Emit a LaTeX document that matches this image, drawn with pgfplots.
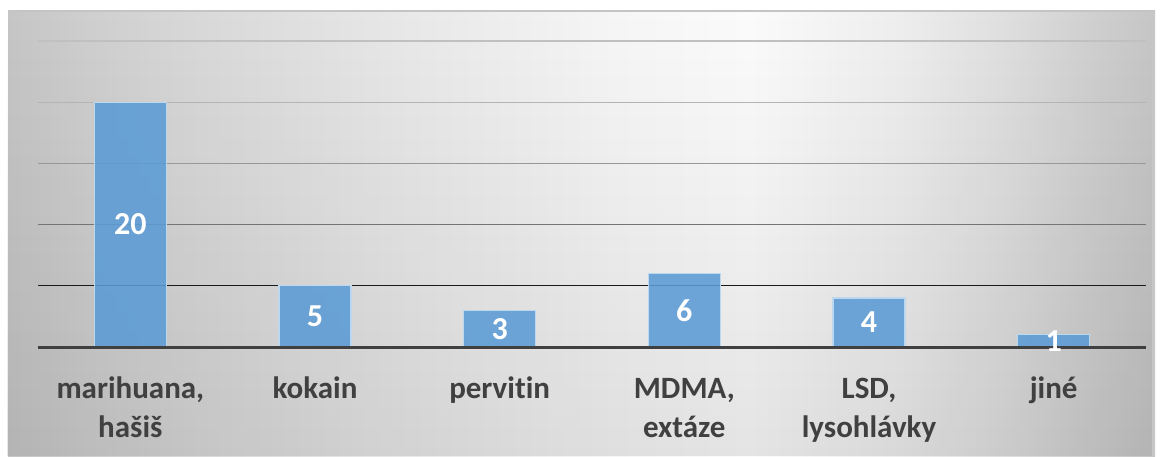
\documentclass[border=0pt]{standalone}
\usepackage{fontspec}
\setmainfont{Carlito}[Ligatures=NoCommon]
\usepackage{pgfplots}
\pgfplotsset{compat=1.18}
\usetikzlibrary{fadings}
\definecolor{barblue}{HTML}{5B9BD5}
\definecolor{baredge}{HTML}{BDD7EE}
\definecolor{labelgray}{HTML}{404040}
\definecolor{axisgray}{HTML}{404040}
\definecolor{gA}{HTML}{C0C0C0}
\definecolor{gB}{HTML}{B4B4B4}
\definecolor{gC}{HTML}{989898}
\definecolor{gD}{HTML}{747474}
\definecolor{gE}{HTML}{1A1A1A}
\definecolor{topline}{HTML}{C4C4C4}
\definecolor{s0}{HTML}{C6C6C6}
\definecolor{s1}{HTML}{D0D0D0}
\definecolor{s2}{HTML}{D9D9D9}
\definecolor{s3}{HTML}{E8E8E8}
\definecolor{s4}{HTML}{F6F6F6}
\definecolor{s5}{HTML}{FBFBFB}
\definecolor{s6}{HTML}{EEEEEE}
\definecolor{s7}{HTML}{E0E0E0}
\definecolor{s8}{HTML}{CFCFCF}
\pgfdeclarehorizontalshading{bgh}{100bp}{color(0bp)=(s0); color(25bp)=(s0); color(29bp)=(s1); color(33.35bp)=(s2); color(42bp)=(s3); color(51.5bp)=(s4); color(57.35bp)=(s5); color(63.9bp)=(s6); color(68.25bp)=(s7); color(72.5bp)=(s8); color(75bp)=(s0); color(100bp)=(s0)}
\begin{document}
\begin{tikzpicture}[x=1pt,y=1pt]
\useasboundingbox (0,0) rectangle (1164,456);
\fill[white] (0,0) rectangle (1164,456);
\shade[shading=bgh] (8,0) rectangle (1155,445);
\fill[black, opacity=0.09, path fading=north] (8,0) rectangle (1155,445);
\draw[topline, line width=1.5pt] (8,445) -- (1155,445);
\begin{axis}[
  at={(38pt,109pt)}, anchor=south west, scale only axis,
  width=1108pt, height=306pt,
  xmin=-0.5, xmax=5.5, ymin=0, ymax=25,
  axis line style={draw=none}, tick style={draw=none},
  ytick=\empty,
  xtick={0,1,2,3,4,5},
  xticklabels={{marihuana,\\hašiš},kokain,{pervit\kern0pt{}in},{MDMA,\\extáze},{LSD,\\lysohlávky},jiné},
  typeset ticklabels with strut,
  xticklabel style={anchor=north, align=center, inner sep=0pt, yshift=-24pt, font=\fontsize{31}{39}\selectfont\bfseries, text=labelgray},
  clip=false,
  /pgf/number format/assume math mode=true,
]
\addplot[gA, line width=1.3pt, forget plot] coordinates {(-0.5,25) (5.5,25)};
\addplot[gB, line width=1.3pt, forget plot] coordinates {(-0.5,20) (5.5,20)};
\addplot[gC, line width=1.3pt, forget plot] coordinates {(-0.5,15) (5.5,15)};
\addplot[gD, line width=1.3pt, forget plot] coordinates {(-0.5,10) (5.5,10)};
\addplot[gE, line width=1.3pt, forget plot] coordinates {(-0.5,5) (5.5,5)};
\addplot[ybar, bar width=72pt, fill=barblue, fill opacity=0.88, draw=baredge, line width=1.2pt,
  nodes near coords, visualization depends on={y \as \rawy},
  every node near coord/.append style={anchor=center, shift={(axis direction cs:0,-\rawy/2)},
    font=\fontsize{32}{38}\selectfont\bfseries, text=white, text opacity=1}]
  coordinates {(0,20) (1,5) (2,3) (3,6) (4,4) (5,1)};
\addplot[axisgray, line width=3pt, forget plot] coordinates {(-0.5,0) (5.5,0)};
\end{axis}
\end{tikzpicture}
\end{document}
